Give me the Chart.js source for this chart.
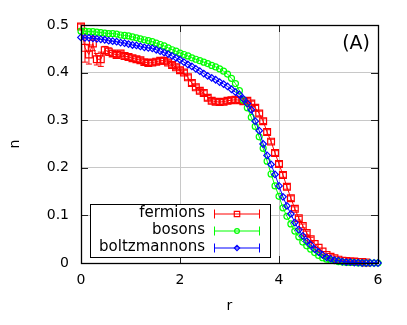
<!DOCTYPE html>
<html><head><meta charset="utf-8">
<script src="https://cdn.jsdelivr.net/npm/chart.js@4/dist/chart.umd.min.js"></script>
<style>html,body{margin:0;padding:0;background:#fff}</style>
</head><body>
<canvas id="c" width="407" height="325" style="display:block;width:407px;height:325px"></canvas>
<script>
const rValues = [
  0,0.08,0.16,0.24,0.32,0.40,0.48,0.56,0.64,0.72,
  0.80,0.88,0.96,1.04,1.12,1.20,1.28,1.36,1.44,1.52,
  1.60,1.68,1.76,1.84,1.92,2.00,2.08,2.16,2.24,2.32,
  2.40,2.48,2.56,2.64,2.72,2.80,2.88,2.96,3.04,3.12,
  3.20,3.28,3.36,3.44,3.52,3.60,3.68,3.76,3.84,3.92,
  4.00,4.08,4.16,4.24,4.32,4.40,4.48,4.56,4.64,4.72,
  4.80,4.88,4.96,5.04,5.12,5.20,5.28,5.36,5.44,5.52,
  5.60,5.68,5.76,5.84,5.92,6.00];
const fermions = [
  .497,.452,.438,.461,.428,.428,.447,.444,.440,.437,
  .440,.435,.433,.430,.428,.426,.422,.420,.421,.423,
  .425,.425,.421,.416,.411,.405,.400,.390,.378,.369,
  .362,.357,.347,.341,.339,.338,.339,.341,.342,.343,
  .342,.340,.341,.335,.326,.314,.298,.275,.255,.231,
  .208,.185,.160,.136,.114,.094,.078,.063,.050,.040,
  .032,.024,.017,.013,.010,.007,.005,.004,.003,.003,
  .002,.002,.001,null,null,null];
const fermionsErr = [
  .005,.030,.020,.015,.012,.015,.008,.008,.006,.005,
  .005,.005,.005,.005,.005,.005,.005,.005,.005,.005,
  .005,.005,.005,.005,.005,.005,.005,.005,.005,.005,
  .005,.005,.005,.005,.005,.005,.005,.005,.005,.005,
  .005,.005,.005,.005,.005,.005,.005,.005,.005,.005,
  .005,.005,.005,.005,.004,.004,.004,.004,.004,.003,
  .003,.003,.002,.002,.002,.001,.001,.001,.001,.001,
  .001,.001,.001,0,0,0];
const bosons = [
  .487,.487,.486,.486,.485,.484,.483,.482,.482,.481,
  .479,.478,.477,.475,.473,.471,.469,.467,.465,.462,
  .459,.456,.452,.448,.445,.441,.438,.435,.431,.428,
  .425,.422,.419,.415,.412,.408,.403,.397,.388,.377,
  .362,.342,.326,.306,.287,.265,.241,.214,.187,.162,
  .140,.116,.098,.082,.067,.055,.044,.036,.029,.022,
  .016,.011,.008,.006,.005,.003,.002,.001,.001,.001,
  0,0,0,0,0,0];
const bosonsErr = [
  .002,.002,.002,.002,.002,.002,.002,.002,.002,.002,
  .002,.002,.002,.002,.002,.002,.002,.002,.002,.002,
  .002,.002,.002,.002,.002,.002,.002,.002,.002,.002,
  .002,.002,.002,.002,.002,.002,.002,.002,.002,.002,
  .002,.002,.002,.002,.002,.002,.002,.002,.002,.002,
  .002,.002,.002,.002,.002,.002,.002,.002,.002,.002,
  .001,.001,.001,.001,.001,.001,.001,.001,.001,.001,
  0,0,0,0,0,0];
const boltzmannons = [
  .474,.473,.473,.472,.471,.470,.469,.467,.466,.465,
  .463,.462,.460,.458,.457,.455,.453,.452,.451,.448,
  .445,.442,.439,.435,.431,.427,.422,.417,.413,.408,
  .403,.398,.393,.389,.385,.380,.376,.371,.365,.359,
  .354,.345,.335,.322,.298,.278,.250,.226,.207,.186,
  .162,.139,.120,.103,.085,.070,.057,.046,.038,.029,
  .023,.017,.012,.009,.006,.005,.003,.002,.002,.001,
  .001,0,0,0,0,0];
const boltzmannonsErr = [
  .002,.002,.002,.002,.002,.002,.002,.002,.002,.002,
  .002,.002,.002,.002,.002,.002,.002,.002,.002,.002,
  .002,.002,.002,.002,.002,.002,.002,.002,.002,.002,
  .002,.002,.002,.002,.002,.002,.002,.002,.002,.002,
  .002,.002,.002,.002,.002,.002,.002,.002,.002,.002,
  .002,.002,.002,.002,.002,.002,.002,.002,.002,.002,
  .001,.001,.001,.001,.001,.001,.001,.001,.001,.001,
  0,0,0,0,0,0];
const xTicks = [0,2,4,6];
const yTicks = [0,0.1,0.2,0.3,0.4,0.5];
const seriesNames = ['fermions','bosons','boltzmannons'];
const panelLabel = '(A)';

const series = [
  {name: seriesNames[0], vals: fermions, err: fermionsErr, color: '#ff0000', style: 'rect', radius: 4.8, order: 3},
  {name: seriesNames[1], vals: bosons, err: bosonsErr, color: '#00ff00', style: 'circle', radius: 3, order: 2},
  {name: seriesNames[2], vals: boltzmannons, err: boltzmannonsErr, color: '#0000ff', style: 'rectRot', radius: 3.3, order: 1}
];
const FONT = '"DejaVu Sans", sans-serif';

const toPts = (vals) => rValues.map((x, i) => ({x, y: vals[i]})).filter(p => p.y !== null);

const datasets = series.map(s => ({
  label: s.name,
  data: toPts(s.vals),
  borderColor: s.color,
  backgroundColor: 'rgba(0,0,0,0)',
  borderWidth: 1,
  pointStyle: s.style,
  pointRadius: s.radius,
  pointBorderWidth: 1.2,
  pointBorderColor: s.color,
  pointBackgroundColor: 'rgba(255,255,255,0)',
  showLine: true,
  tension: 0,
  clip: false,
  order: s.order
}));

const extras = {
  id: 'extras',
  beforeDatasetsDraw(chart) {
    const {ctx, scales: {x, y}} = chart;
    ctx.save();
    ctx.lineWidth = 1;
    series.forEach(s => {
      ctx.strokeStyle = s.color;
      s.vals.forEach((v, i) => {
        if (v === null) return;
        const e = s.err[i];
        if (!e || e < 0.004) return;
        const px = x.getPixelForValue(rValues[i]);
        const y1 = y.getPixelForValue(v + e), y2 = y.getPixelForValue(v - e);
        ctx.beginPath();
        ctx.moveTo(px, y1); ctx.lineTo(px, y2);
        ctx.moveTo(px - 3, y1); ctx.lineTo(px + 3, y1);
        ctx.moveTo(px - 3, y2); ctx.lineTo(px + 3, y2);
        ctx.stroke();
      });
    });
    ctx.restore();
  },
  afterDraw(chart) {
    const {ctx, chartArea: a, scales: {x, y}} = chart;
    ctx.save();
    ctx.strokeStyle = '#222';
    ctx.lineWidth = 1;
    const tl = 7;
    ctx.beginPath();
    yTicks.forEach(t => {
      const py = Math.round(y.getPixelForValue(t)) + 0.5;
      ctx.moveTo(a.left, py); ctx.lineTo(a.left + tl, py);
      ctx.moveTo(a.right, py); ctx.lineTo(a.right - tl, py);
    });
    xTicks.forEach(t => {
      const px = Math.round(x.getPixelForValue(t)) + 0.5;
      ctx.moveTo(px, a.bottom); ctx.lineTo(px, a.bottom - tl);
      ctx.moveTo(px, a.top); ctx.lineTo(px, a.top + tl);
    });
    ctx.stroke();
    ctx.strokeStyle = '#000';
    ctx.lineWidth = 1.3;
    ctx.strokeRect(Math.round(a.left) + 0.5, Math.round(a.top) + 0.5, Math.round(a.right - a.left), Math.round(a.bottom - a.top));
    ctx.fillStyle = '#000';
    ctx.font = '19px ' + FONT;
    ctx.textAlign = 'right';
    ctx.textBaseline = 'middle';
    ctx.fillText(panelLabel, a.right - 8, a.top + 19);
    const bx = a.left + 9, by = a.bottom - 59, bw = 180, bh = 53;
    ctx.fillStyle = '#fff';
    ctx.fillRect(bx, by, bw, bh);
    ctx.strokeStyle = '#000';
    ctx.lineWidth = 1;
    ctx.strokeRect(bx + 0.5, by + 0.5, bw, bh);
    ctx.font = '15px ' + FONT;
    ctx.textAlign = 'right';
    series.forEach((s, i) => {
      const ry = by + 9.5 + i * 17;
      ctx.fillStyle = '#000';
      ctx.fillText(s.name, bx + 115, ry);
      const x0 = bx + 124, x1 = bx + 170, xm = (x0 + x1) / 2;
      ctx.strokeStyle = s.color;
      ctx.lineWidth = 1;
      ctx.beginPath();
      ctx.moveTo(x0, ry + 0.5); ctx.lineTo(x1, ry + 0.5);
      ctx.moveTo(x0 + 0.5, ry - 4); ctx.lineTo(x0 + 0.5, ry + 5);
      ctx.moveTo(x1 - 0.5, ry - 4); ctx.lineTo(x1 - 0.5, ry + 5);
      ctx.stroke();
      ctx.lineWidth = 1.2;
      ctx.fillStyle = 'rgba(255,255,255,0)';
      ctx.strokeStyle = s.color;
      Chart.helpers.drawPoint(ctx, {pointStyle: s.style, radius: s.radius * 0.8, borderWidth: 1.2}, xm, ry + 0.5);
    });
    ctx.restore();
  }
};

new Chart(document.getElementById('c'), {
  type: 'scatter',
  data: {datasets},
  options: {
    responsive: false,
    animation: false,
    devicePixelRatio: 1,
    layout: {padding: {top: 25, right: 29, left: 0, bottom: 0}},
    plugins: {legend: {display: false}, tooltip: {enabled: false}},
    scales: {
      x: {
        type: 'linear', min: 0, max: 6,
        afterFit(s) { s.height = 62; },
        afterBuildTicks(s) { s.ticks = xTicks.map(v => ({value: v})); },
        ticks: {color: '#000', font: {family: FONT, size: 14}, padding: 9},
        grid: {color: (c) => (c.tick && (c.tick.value === 0 || c.tick.value === 6)) ? 'rgba(0,0,0,0)' : '#c8c8c8', drawTicks: false, lineWidth: 1},
        border: {display: false},
        title: {display: true, text: 'r', color: '#000', font: {family: FONT, size: 14}, padding: {top: 0, bottom: 10}}
      },
      y: {
        type: 'linear', min: 0, max: 0.5,
        afterFit(s) { s.width = 81; },
        afterBuildTicks(s) { s.ticks = yTicks.map(v => ({value: v})); },
        ticks: {color: '#000', font: {family: FONT, size: 14}, padding: 12, callback: (v) => String(Math.round(v * 10) / 10)},
        grid: {color: (c) => (c.tick && (c.tick.value === 0 || c.tick.value === 0.5)) ? 'rgba(0,0,0,0)' : '#c8c8c8', drawTicks: false, lineWidth: 1},
        border: {display: false},
        title: {display: true, text: 'n', color: '#000', font: {family: FONT, size: 14}, padding: {top: 7, bottom: 0}}
      }
    }
  },
  plugins: [extras]
});
</script>
</body></html>
